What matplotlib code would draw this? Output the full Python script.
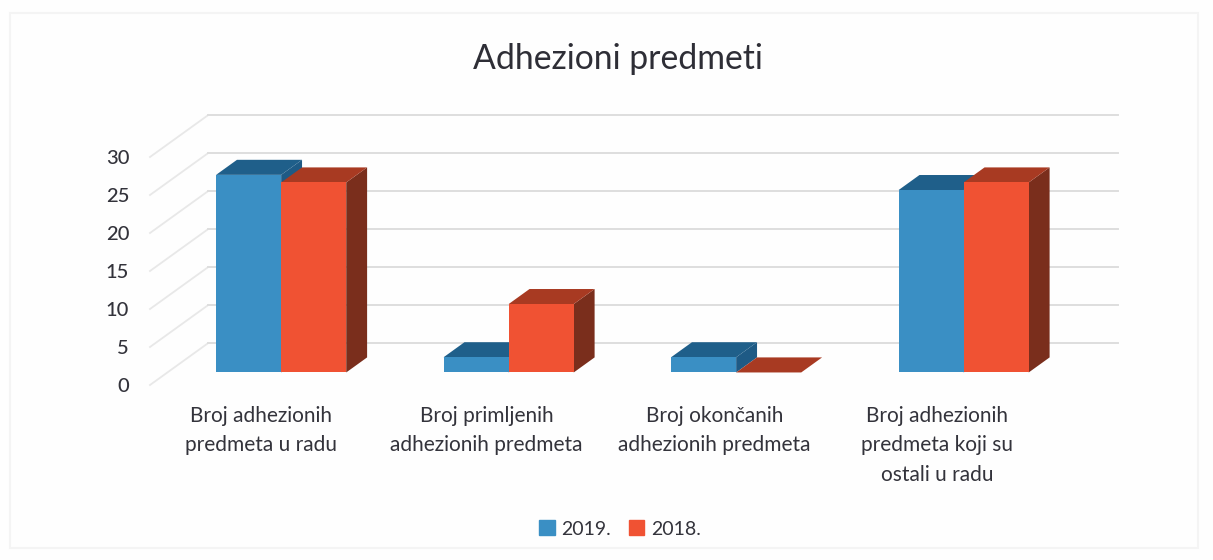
import matplotlib.pyplot as plt
from matplotlib.patches import Patch, Rectangle

plt.rcParams['font.family'] = ['Lato', 'DejaVu Sans']

# Podaci
categories = ['Broj adhezionih\npredmeta u radu',
              'Broj primljenih\nadhezionih predmeta',
              'Broj okončanih\nadhezionih predmeta',
              'Broj adhezionih\npredmeta koji su\nostali u radu']
values_2019 = [26, 2, 2, 24]
values_2018 = [25, 9, 0, 25]
y_ticks = [0, 5, 10, 15, 20, 25, 30]

BLUE = ('#3A8FC4', '#1F5F8A', '#1E5A85')
RED = ('#F05233', '#A83A22', '#7A2E1C')
TEXT = '#33333B'

# koso 3D: pomak po dubini u jedinicama osa
DX = 0.255
DY = 5.5
D_FRONT = 0.3
D_BACK = 0.66
BAR_W = 0.286

fig = plt.figure(figsize=(12.13, 5.6), dpi=100, facecolor='#FEFEFE')
fig.add_artist(Rectangle((10 / 1213, 1 - 548 / 560), 1188 / 1213, 535 / 560,
                         transform=fig.transFigure, fill=False,
                         edgecolor='#F4F4F4', linewidth=1.5))
ax = fig.add_axes([150 / 1213, 1 - 385 / 560, 910 / 1213, 228 / 560])
ax.set_xlim(0, 4)
ax.set_ylim(0, 30)
ax.patch.set_alpha(0)
for s in ax.spines.values():
    s.set_visible(False)

# zid i pod
for v in y_ticks:
    ax.plot([0, DX], [v, v + DY], color='#E8E8E8', lw=1.3, clip_on=False, zorder=1)
    ax.plot([DX, 4 + DX], [v + DY, v + DY], color='#DEDEDE', lw=1.4,
            clip_on=False, zorder=1)


def bar3d(x, v, colors, z):
    front, top, side = colors
    x0 = x + D_FRONT * DX
    x1 = x0 + BAR_W
    y0 = D_FRONT * DY
    ddx = (D_BACK - D_FRONT) * DX
    ddy = (D_BACK - D_FRONT) * DY
    # bočna strana
    ax.fill([x1, x1 + ddx, x1 + ddx, x1],
            [y0, y0 + ddy, y0 + v + ddy, y0 + v],
            color=side, lw=0, clip_on=False, zorder=z)
    # gornja strana
    ax.fill([x0, x1, x1 + ddx, x0 + ddx],
            [y0 + v, y0 + v, y0 + v + ddy, y0 + v + ddy],
            color=top, lw=0, clip_on=False, zorder=z)
    ax.bar(x0, v, width=BAR_W, bottom=y0, align='edge', color=front,
           clip_on=False, zorder=z)


for i in range(len(categories)):
    start = i + 0.5 - BAR_W
    bar3d(start, values_2019[i], BLUE, 2 + i * 2)
    bar3d(start + BAR_W, values_2018[i], RED, 3 + i * 2)

ax.set_yticks(y_ticks)
ax.set_xticks([0.49, 1.48, 2.48, 3.46])
ax.set_xticklabels(categories, linespacing=1.6)
ax.tick_params(axis='y', length=0, pad=15, labelsize=14.5, labelcolor=TEXT)
ax.tick_params(axis='x', length=0, pad=15, labelsize=15, labelcolor=TEXT)
for lab in ax.get_yticklabels():
    lab.set_y(lab.get_position()[1])
    lab.set_fontweight('medium')

fig.text(618 / 1213, 1 - 59 / 560, 'Adhezioni predmeti', fontsize=24.3,
         color='#2E2E36', ha='center', va='center')

handles = [Patch(color=BLUE[0], label='2019.'), Patch(color=RED[0], label='2018.')]
fig.legend(handles=handles, loc='center', bbox_to_anchor=(620 / 1213, 1 - 529 / 560),
           ncol=2, frameon=False, fontsize=14, labelcolor=TEXT, handlelength=0.8,
           handleheight=0.8, handletextpad=0.35, columnspacing=0.9)

plt.savefig('out.png', dpi=100, facecolor=fig.get_facecolor())
